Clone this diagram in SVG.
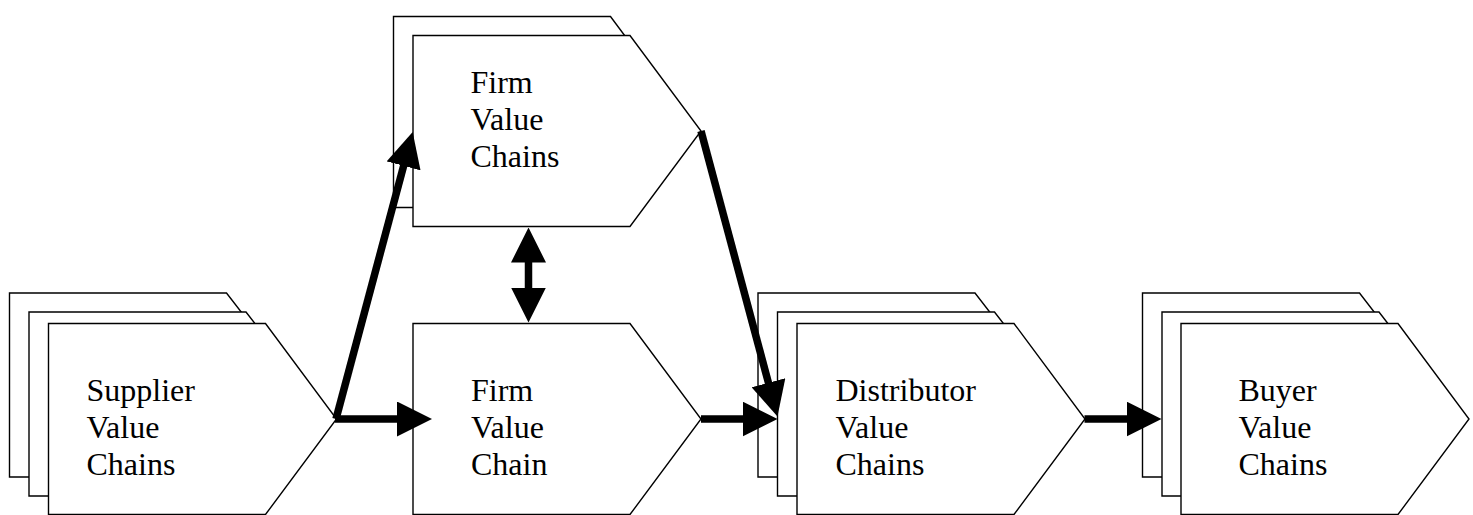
<svg xmlns="http://www.w3.org/2000/svg" xmlns:xlink="http://www.w3.org/1999/xlink" width="1473" height="515" viewBox="0 0 1473 515">
  <style>
    .box { fill: #ffffff; stroke: #000000; stroke-width: 1.4; stroke-linejoin: miter; }
    .lbl { font-family: "Liberation Serif", "Times New Roman", serif; font-size: 32px; fill: #000000; }
    .flow { fill: none; stroke: #000000; stroke-width: 7.5; stroke-linecap: butt; }
  </style>
  <defs>
    <!-- value-chain chevron: flat left side, pointed right side -->
    <path id="chev" d="M0,0 H217 L288,95.5 L217,191 H0 Z"/>
    <!-- slightly shorter chevron used for the copies stacked behind -->
    <path id="chevBack" d="M0,0 H217 L288,92 L217,184 H0 Z"/>
    <marker id="head" viewBox="0 0 35 35" refX="10" refY="17.5" markerWidth="35" markerHeight="35" markerUnits="userSpaceOnUse" orient="auto-start-reverse">
      <path d="M0,0 L35,17.5 L0,35 Z" fill="#000000"/>
    </marker>
  </defs>

  <!-- Supplier value chains (stack of three) -->
  <g id="supplier">
    <use xlink:href="#chevBack" href="#chevBack" class="box" x="9.5" y="293"/>
    <use xlink:href="#chevBack" href="#chevBack" class="box" x="29" y="312"/>
    <use xlink:href="#chev" href="#chev" class="box" x="48.5" y="323.5"/>
    <text class="lbl" x="86.5" y="401">Supplier</text>
    <text class="lbl" x="86.5" y="438">Value</text>
    <text class="lbl" x="86.5" y="475">Chains</text>
  </g>

  <!-- Other firm value chains (stack of two) -->
  <g id="firms">
    <use xlink:href="#chev" href="#chev" class="box" x="393.5" y="16.5"/>
    <use xlink:href="#chev" href="#chev" class="box" x="413" y="35.5"/>
    <text class="lbl" x="470.5" y="93">Firm</text>
    <text class="lbl" x="470.5" y="130">Value</text>
    <text class="lbl" x="470.5" y="167">Chains</text>
  </g>

  <!-- The firm's own value chain -->
  <g id="firm">
    <use xlink:href="#chev" href="#chev" class="box" x="413" y="323.5"/>
    <text class="lbl" x="471" y="401">Firm</text>
    <text class="lbl" x="471" y="438">Value</text>
    <text class="lbl" x="471" y="475">Chain</text>
  </g>

  <!-- Distributor value chains (stack of three) -->
  <g id="distributor">
    <use xlink:href="#chevBack" href="#chevBack" class="box" x="758" y="293"/>
    <use xlink:href="#chevBack" href="#chevBack" class="box" x="777.5" y="312"/>
    <use xlink:href="#chev" href="#chev" class="box" x="797" y="323.5"/>
    <text class="lbl" x="835.5" y="401">Distributor</text>
    <text class="lbl" x="835.5" y="438">Value</text>
    <text class="lbl" x="835.5" y="475">Chains</text>
  </g>

  <!-- Buyer value chains (stack of three) -->
  <g id="buyer">
    <use xlink:href="#chevBack" href="#chevBack" class="box" x="1142.5" y="293"/>
    <use xlink:href="#chevBack" href="#chevBack" class="box" x="1162" y="312"/>
    <use xlink:href="#chev" href="#chev" class="box" x="1181" y="323.5"/>
    <text class="lbl" x="1238.5" y="401">Buyer</text>
    <text class="lbl" x="1238.5" y="438">Value</text>
    <text class="lbl" x="1238.5" y="475">Chains</text>
  </g>

  <!-- Flows between the chains -->
  <g id="connectors">
    <line class="flow" x1="335" y1="419" x2="407" y2="419" marker-end="url(#head)"/>
    <line class="flow" x1="336" y1="419" x2="406.2" y2="156.2" marker-end="url(#head)"/>
    <line class="flow" x1="528.5" y1="252.5" x2="528.5" y2="297.5" marker-start="url(#head)" marker-end="url(#head)"/>
    <line class="flow" x1="701" y1="131" x2="771" y2="392.4" marker-end="url(#head)"/>
    <line class="flow" x1="701" y1="419" x2="752.5" y2="419" marker-end="url(#head)"/>
    <line class="flow" x1="1084.5" y1="419" x2="1136.5" y2="419" marker-end="url(#head)"/>
  </g>
</svg>
